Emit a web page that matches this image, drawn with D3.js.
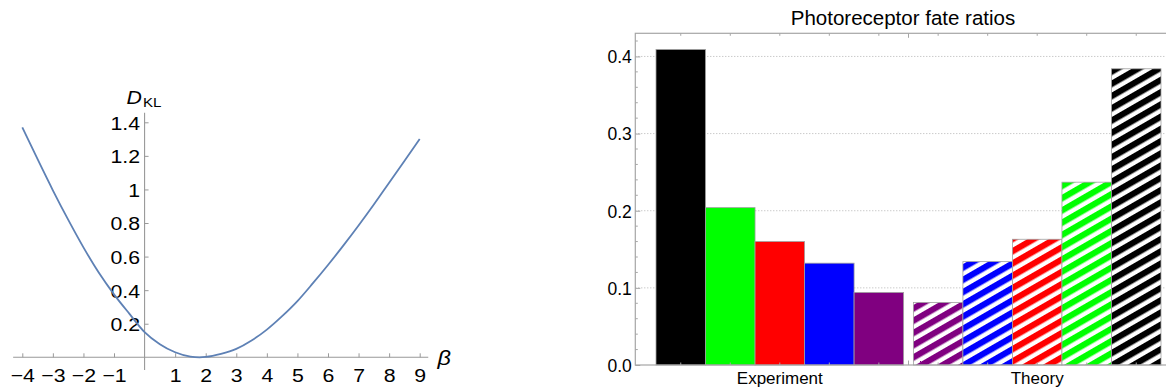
<!DOCTYPE html>
<html>
<head>
<meta charset="utf-8">
<script src="https://cdn.jsdelivr.net/npm/d3@7"></script>
<style>
  html, body { margin: 0; padding: 0; background: #fff; }
  svg { display: block; font-family: "Liberation Sans", Arial, sans-serif; }
  .tick text { font-family: "Liberation Sans", Arial, sans-serif; fill: #000; }
</style>
</head>
<body>
<svg id="chart" width="1166" height="390"></svg>
<script>
// ---- data: left panel (D_KL versus beta) ----
const betaValues = [-4, -3.5, -3, -2.5, -2, -1.5, -1, -0.5, 0, 0.5, 1, 1.5, 1.8, 2, 2.5, 3, 3.5, 4, 4.5, 5, 5.5, 6, 6.5, 7, 7.5, 8, 8.5, 9];
const dklValues  = [1.37, 1.18, 0.995, 0.82, 0.655, 0.505, 0.375, 0.26, 0.15, 0.078, 0.03, 0.004, 0, 0.002, 0.02, 0.05, 0.1, 0.165, 0.245, 0.335, 0.44, 0.55, 0.665, 0.785, 0.91, 1.04, 1.17, 1.30];
const betaTicks  = [-4, -3, -2, -1, 1, 2, 3, 4, 5, 6, 7, 8, 9];
const dklTicks   = [0.2, 0.4, 0.6, 0.8, 1, 1.2, 1.4];

// ---- data: right panel (bar chart) ----
const groups          = ["Experiment", "Theory"];
const experimentFates = ["black", "green", "red", "blue", "purple"];
const experimentRatio = [0.409, 0.204, 0.160, 0.132, 0.094];
const theoryFates     = ["purple", "blue", "red", "green", "black"];
const theoryRatio     = [0.081, 0.134, 0.163, 0.237, 0.384];
const ratioTicks      = [0, 0.1, 0.2, 0.3, 0.4];
const chartTitle      = "Photoreceptor fate ratios";

const fateColor = { black: "#000000", green: "#00ff00", red: "#ff0000", blue: "#0000ff", purple: "#800080" };

const svg = d3.select("#chart");
const fmtTick = d => d3.format("")(d).replace("-", "\u2212");
const STRETCH = "scale(1.12,1)";   // left panel text is a bit wider than plain Arial

/* ------------------------------------------------------------------
 * 1. left panel: curve with axes through the origin
 * ----------------------------------------------------------------*/
const x1 = d3.scaleLinear().domain([-4, 9]).range([22.3, 419.7]);
const y1 = d3.scaleLinear().domain([0, 1.4]).range([357.3, 122.3]);
const left = svg.append("g");

// axis lines (a little past the data range, like the original)
left.append("line")
    .attr("x1", x1(-4.3)).attr("x2", x1(9.28))
    .attr("y1", y1(0)).attr("y2", y1(0))
    .attr("stroke", "#999").attr("stroke-width", 1.1);
left.append("line")
    .attr("x1", x1(0)).attr("x2", x1(0))
    .attr("y1", y1(1.457)).attr("y2", y1(-0.076))
    .attr("stroke", "#999").attr("stroke-width", 1.1);

const xAx = left.append("g")
    .attr("transform", `translate(0,${y1(0)})`)
    .call(d3.axisBottom(x1).tickValues(betaTicks).tickSize(-4).tickFormat(fmtTick));
xAx.select(".domain").remove();
xAx.selectAll(".tick line").attr("stroke", "#999");
xAx.selectAll(".tick text")
    .attr("y", 24.4).attr("dy", null)
    .attr("font-size", 19).attr("transform", STRETCH);

const yAx = left.append("g")
    .attr("transform", `translate(${x1(0)},0)`)
    .call(d3.axisLeft(y1).tickValues(dklTicks).tickSize(-4).tickPadding(4).tickFormat(d3.format("")));
yAx.select(".domain").remove();
yAx.selectAll(".tick line").attr("stroke", "#999");
yAx.selectAll(".tick text")
    .attr("font-size", 19).attr("dy", "0.36em").attr("transform", STRETCH);

const line = d3.line()
    .x((d, i) => x1(betaValues[i]))
    .y(d => y1(d))
    .curve(d3.curveMonotoneX);
left.append("path")
    .datum(dklValues)
    .attr("d", line)
    .attr("fill", "none")
    .attr("stroke", "#5e81b5")
    .attr("stroke-width", 1.8);

// axis labels
const dLab = left.append("text")
    .attr("transform", `translate(126.5,103.5) ${STRETCH}`)
    .attr("font-size", 19);
dLab.append("tspan").attr("font-style", "italic").text("D");
dLab.append("tspan").attr("font-size", 13.5).attr("dy", 3.5).attr("dx", 1).text("KL");
left.append("text")
    .attr("transform", `translate(437.5,364.5) ${STRETCH}`)
    .attr("font-size", 21).attr("font-style", "italic")
    .text("\u03b2");

/* ------------------------------------------------------------------
 * 2. right panel: framed bar chart
 * ----------------------------------------------------------------*/
const frame = { left: 635.3, right: 1171, top: 33.3, bottom: 365 };
const y2 = d3.scaleLinear().domain([0, 0.43]).range([frame.bottom, frame.top]);
const xGroup = d3.scaleBand().domain(groups).range([656, 1161]).paddingInner(0.038);
const xBar = d3.scaleBand().domain(d3.range(5)).range([0, xGroup.bandwidth()]);

const right = svg.append("g");
const defs = svg.append("defs");

// striped fills for the theory bars
const stripeStep = 10.6, stripeInk = 6.2;
Object.entries(fateColor).forEach(([name, c]) => {
  const p = defs.append("pattern")
      .attr("id", "stripe-" + name)
      .attr("patternUnits", "userSpaceOnUse")
      .attr("width", 40).attr("height", stripeStep)
      .attr("patternTransform", "rotate(-30)");
  p.append("rect").attr("width", 40).attr("height", stripeStep).attr("fill", "#fff");
  p.append("rect").attr("width", 40).attr("height", stripeInk).attr("fill", c);
});

// dotted gridlines
right.selectAll("line.grid")
  .data(ratioTicks.filter(d => d > 0))
  .join("line")
    .attr("class", "grid")
    .attr("x1", frame.left).attr("x2", frame.right + 20)
    .attr("y1", d => y2(d)).attr("y2", d => y2(d))
    .attr("stroke", "#b4b4b4").attr("stroke-width", 1)
    .attr("stroke-dasharray", "1,2");

// bars
const barRows = [
  { group: "Experiment", fates: experimentFates, values: experimentRatio, striped: false },
  { group: "Theory",     fates: theoryFates,     values: theoryRatio,     striped: true }
];
barRows.forEach(row => {
  right.append("g")
    .selectAll("rect")
    .data(row.values)
    .join("rect")
      .attr("x", (d, i) => xGroup(row.group) + xBar(i))
      .attr("y", d => y2(d))
      .attr("width", xBar.bandwidth())
      .attr("height", d => y2(0) - y2(d))
      .attr("fill", (d, i) => row.striped ? `url(#stripe-${row.fates[i]})` : fateColor[row.fates[i]])
      .attr("stroke", "#a0a0a0")
      .attr("stroke-width", 0.8);
});

// frame
right.append("rect")
    .attr("x", frame.left).attr("y", frame.top)
    .attr("width", frame.right + 20 - frame.left).attr("height", frame.bottom - frame.top)
    .attr("fill", "none").attr("stroke", "#a6a6a6").attr("stroke-width", 1.2);

// y axis (ticks point inward)
const yAx2 = right.append("g")
    .attr("transform", `translate(${frame.left},0)`)
    .call(d3.axisLeft(y2).tickValues(ratioTicks).tickSize(-5).tickPadding(3.5).tickFormat(d3.format(".1f")));
yAx2.select(".domain").remove();
yAx2.selectAll(".tick line").attr("stroke", "#a6a6a6");
yAx2.selectAll(".tick text").attr("font-size", 17.5).attr("dy", "0.36em");

const minorY = d3.range(0.02, 0.43, 0.02).filter(v => Math.abs(v * 10 - Math.round(v * 10)) > 1e-6);
right.selectAll("line.minor-y")
  .data(minorY)
  .join("line")
    .attr("x1", frame.left).attr("x2", frame.left + 2.5)
    .attr("y1", d => y2(d)).attr("y2", d => y2(d))
    .attr("stroke", "#a6a6a6");

// top & bottom frame ticks: bar centres (short) and group divider (long)
const barCentres = [];
groups.forEach(g => d3.range(5).forEach(i => barCentres.push(xGroup(g) + xBar(i) + xBar.bandwidth() / 2)));
const divider = (xGroup("Experiment") + xGroup.bandwidth() + xGroup("Theory")) / 2;
[frame.top, frame.bottom].forEach((yy, k) => {
  const dir = k === 0 ? 1 : -1;
  right.append("g").selectAll("line")
    .data(barCentres)
    .join("line")
      .attr("x1", d => d).attr("x2", d => d)
      .attr("y1", yy).attr("y2", yy + dir * 2.5)
      .attr("stroke", "#a6a6a6");
  right.append("line")
      .attr("x1", divider).attr("x2", divider)
      .attr("y1", yy).attr("y2", yy + dir * 4.5)
      .attr("stroke", "#a6a6a6");
});

// category labels
right.selectAll("text.group-label")
  .data(groups)
  .join("text")
    .attr("class", "group-label")
    .attr("x", d => xGroup(d) + xGroup.bandwidth() / 2)
    .attr("y", 383.5)
    .attr("text-anchor", "middle")
    .attr("font-size", 17)
    .text(d => d);

// title
right.append("text")
    .attr("x", 903)
    .attr("y", 25)
    .attr("text-anchor", "middle")
    .attr("font-size", 20.5)
    .text(chartTitle);
</script>
</body>
</html>
